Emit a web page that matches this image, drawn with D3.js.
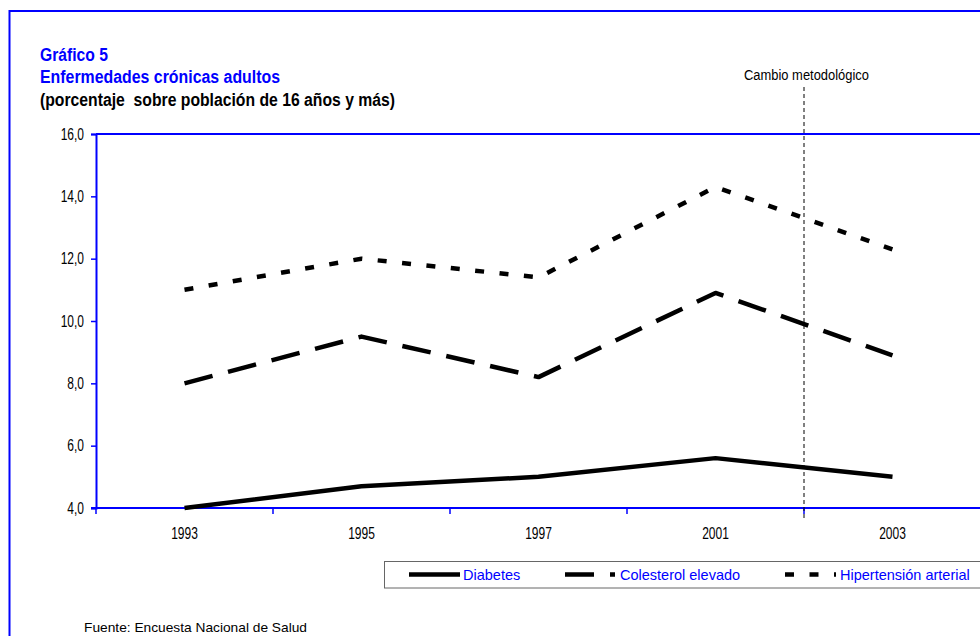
<!DOCTYPE html>
<html>
<head>
<meta charset="utf-8">
<script src="https://cdn.jsdelivr.net/npm/d3@7"></script>
<style>
  html, body { margin: 0; padding: 0; background: #fff; }
  svg { display: block; }
  text { white-space: pre; }
</style>
</head>
<body>
<svg id="chart" width="980" height="636"></svg>
<script>
// ---- data ----
const years = ["1993", "1995", "1997", "2001", "2003"];
const diabetes = [4.0, 4.7, 5.0, 5.6, 5.0];
const colesterol = [8.0, 9.5, 8.2, 10.9, 8.9];
const hipertension = [11.0, 12.0, 11.4, 14.3, 12.3];
const yTicks = [4, 6, 8, 10, 12, 14, 16];
const seriesNames = ["Diabetes", "Colesterol elevado", "Hipertensión arterial"];
const titleLines = ["Gráfico 5", "Enfermedades crónicas adultos", "(porcentaje  sobre población de 16 años y más)"];
const changeLabel = "Cambio metodológico";
const sourceText = "Fuente: Encuesta Nacional de Salud";

// ---- setup ----
const BLUE = "#0000ff";
const SANS = "'Liberation Sans', Arial, sans-serif";
const SX = 0.75; // horizontal squeeze to imitate a condensed face
const svg = d3.select("#chart");

const plot = { left: 96, right: 981, top: 134, bottom: 508 };
const x = d3.scaleBand().domain(years).range([plot.left, plot.right]).padding(0);
const y = d3.scaleLinear().domain([4, 16]).range([plot.bottom, plot.top]);
const cx = d => x(d) + x.bandwidth() / 2;

function fitText(g, str, px, py, size, width, opts = {}) {
  return g.append("text")
    .attr("x", px).attr("y", py)
    .attr("font-family", SANS)
    .attr("font-size", size)
    .attr("font-weight", opts.bold ? "bold" : "normal")
    .attr("fill", opts.fill || "#000")
    .attr("text-anchor", opts.anchor || "start")
    .attr("textLength", width)
    .attr("lengthAdjust", opts.adjust || "spacingAndGlyphs")
    .text(str);
}
function squeeze(sel) {
  sel.each(function () {
    const t = d3.select(this);
    const xv = +t.attr("x") || 0;
    t.attr("x", xv / SX).attr("transform", `scale(${SX},1)`);
  });
}

// outer frame
svg.append("path")
  .attr("d", `M9.5,700 L9.5,11 L1000,11`)
  .attr("fill", "none").attr("stroke", BLUE).attr("stroke-width", 2);

// titles
const tt = svg.append("g");
fitText(tt, titleLines[0], 40, 61, 18, 68, { bold: true, fill: BLUE });
fitText(tt, titleLines[1], 40, 83, 18, 240, { bold: true, fill: BLUE });
fitText(tt, titleLines[2], 40, 106, 18, 355, { bold: true, fill: "#000" });

// plot border top
svg.append("line")
  .attr("x1", plot.left).attr("x2", 1000).attr("y1", plot.top).attr("y2", plot.top)
  .attr("stroke", BLUE).attr("stroke-width", 2);

// y axis
const yAxis = svg.append("g")
  .attr("transform", `translate(${plot.left},0)`)
  .call(d3.axisLeft(y).tickValues(yTicks).tickSize(5).tickPadding(7)
    .tickFormat(d => d3.format(".1f")(d).replace(".", ",")));
yAxis.select(".domain").attr("stroke", BLUE).attr("stroke-width", 2);
yAxis.selectAll(".tick line").attr("stroke", BLUE).attr("stroke-width", 1.5);
yAxis.selectAll(".tick text").attr("font-family", SANS).attr("font-size", 16).attr("fill", "#000")
  .attr("dy", "0.33em").call(squeeze);

// x axis (labels at band centres, ticks on band boundaries)
const xAxis = svg.append("g")
  .attr("transform", `translate(0,${plot.bottom})`)
  .call(d3.axisBottom(x).tickSize(0).tickPadding(20));
xAxis.select(".domain").remove();
xAxis.selectAll(".tick text").attr("font-family", SANS).attr("font-size", 16).attr("fill", "#000")
  .call(squeeze);
svg.append("line")
  .attr("x1", plot.left - 5).attr("x2", 1000).attr("y1", plot.bottom).attr("y2", plot.bottom)
  .attr("stroke", BLUE).attr("stroke-width", 2);
const boundaries = years.map(d => x(d)).concat([x(years[years.length - 1]) + x.bandwidth()]);
svg.append("g").selectAll("line").data(boundaries).join("line")
  .attr("x1", d => d).attr("x2", d => d)
  .attr("y1", plot.bottom).attr("y2", plot.bottom + 6)
  .attr("stroke", BLUE).attr("stroke-width", 1.5);

// methodological change line
const xChange = x("2003");
svg.append("line")
  .attr("x1", xChange).attr("x2", xChange).attr("y1", 87).attr("y2", 519)
  .attr("stroke", "#000").attr("stroke-width", 1).attr("stroke-dasharray", "4,3");
fitText(svg, changeLabel, 744, 80, 14, 125);

// series
const series = [
  { name: seriesNames[0], values: diabetes, dash: null },
  { name: seriesNames[1], values: colesterol, dash: "29,16" },
  { name: seriesNames[2], values: hipertension, dash: "9,15.5" }
];
const line = d3.line().x((v, i) => cx(years[i])).y(v => y(v));
svg.append("g").selectAll("path").data(series).join("path")
  .attr("d", s => line(s.values))
  .attr("fill", "none").attr("stroke", "#000").attr("stroke-width", 4.5)
  .attr("stroke-linejoin", "round")
  .attr("stroke-dasharray", s => s.dash);

// legend
const lg = svg.append("g");
lg.append("rect").attr("x", 384.5).attr("y", 561.5).attr("width", 700).attr("height", 26.5)
  .attr("fill", "#fff").attr("stroke", "#666").attr("stroke-width", 1);
const legendPos = [{ x1: 409, x2: 460, tx: 463 }, { x1: 565, x2: 615, tx: 620 }, { x1: 785, x2: 836, tx: 840 }];
series.forEach((s, i) => {
  const p = legendPos[i];
  lg.append("line").attr("x1", p.x1).attr("x2", p.x2).attr("y1", 574.5).attr("y2", 574.5)
    .attr("stroke", "#000").attr("stroke-width", 4.5).attr("stroke-dasharray", s.dash);
  lg.append("text").attr("x", p.tx).attr("y", 579.5)
    .attr("font-family", SANS).attr("font-size", 14.5)
    .attr("fill", BLUE).text(s.name);
});

// source
fitText(svg, sourceText, 84, 632, 13, 223);
</script>
</body>
</html>
